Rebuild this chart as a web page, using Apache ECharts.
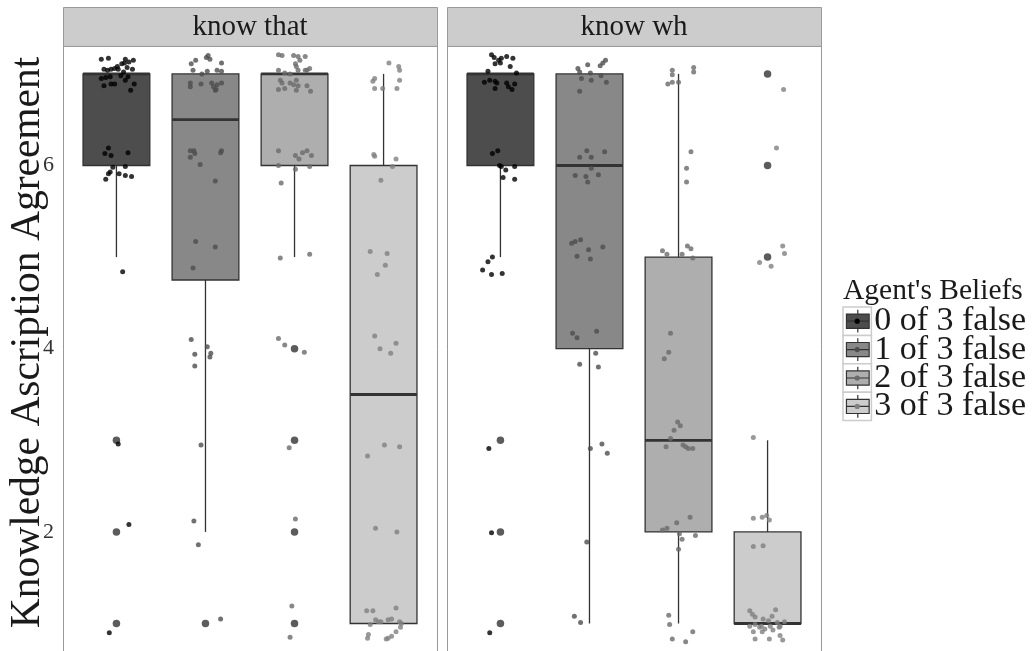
<!DOCTYPE html>
<html>
<head>
<meta charset="utf-8">
<script src="https://cdn.jsdelivr.net/npm/echarts@6/dist/echarts.min.js"></script>
<style>
  html, body { margin: 0; padding: 0; background: #ffffff; }
  #chart { width: 1035px; height: 651px; }
</style>
</head>
<body>
<div id="chart"></div>
<script>
// ---- data ----
const facets = ['know that', 'know wh'];
const beliefs = ['0 of 3 false', '1 of 3 false', '2 of 3 false', '3 of 3 false'];
const yTicks = [2, 4, 6];
const legendTitle = "Agent's Beliefs";
const yTitle = 'Knowledge Ascription Agreement';

// [lower whisker, Q1, median, Q3, upper whisker] per belief level
const boxKnowThat = [[5, 6, 7, 7, 7], [2, 4.75, 6.5, 7, 7], [5, 6, 7, 7, 7], [1, 1, 3.5, 6, 7]];
const boxKnowWh   = [[5, 6, 7, 7, 7], [1, 4, 6, 7, 7], [1, 2, 3, 5, 7], [1, 1, 1, 2, 3]];

const outliersKnowThat = [[3, 2, 1], [1], [4, 3, 2, 1], []];
const outliersKnowWh   = [[3, 2, 1], [], [], [7, 6, 5]];

// individual responses: [horizontal offset inside the group, rating]
const jitterThat0 = [
  [-0.17,7.16],[-0.09,7.17],[0.10,7.16],[0.19,7.15],[0.14,7.13],[-0.14,7.05],[-0.10,7.04],[-0.06,7.05],
  [-0.02,7.06],[0.01,7.08],[0.06,7.11],[0.09,7.12],[0.12,7.07],[0.18,7.05],[-0.17,6.95],[-0.12,6.96],
  [-0.07,6.97],[-0.06,6.89],[-0.02,6.89],[-0.14,6.87],[0.05,6.98],[0.10,6.93],[0.13,6.97],[0.20,6.89],
  [0.16,6.82],[0.02,7.05],[0.08,7.02],
  [-0.09,6.19],[-0.13,6.13],[-0.06,6.11],[0.13,6.14],[-0.04,5.98],[0.10,5.99],[-0.07,5.93],[-0.09,5.91],
  [0.03,5.91],[0.10,5.89],[0.17,5.88],[-0.12,5.85],
  [0.07,4.84],[0.02,2.96],[0.14,2.08],[-0.08,0.90]
];
const jitterThat1 = [
  [-0.16,7.11],[-0.11,7.15],[0.01,7.18],[0.05,7.16],[0.03,7.20],[0.18,7.12],[-0.14,7.04],[-0.04,7.00],
  [0.02,7.03],[0.13,7.04],[0.18,7.03],
  [-0.17,6.90],[-0.17,6.86],[-0.05,6.89],[0.07,6.90],[0.09,6.86],[0.12,6.83],[0.13,6.88],[0.18,6.90],[0.11,6.82],
  [-0.17,6.16],[-0.13,6.16],[-0.17,6.09],[-0.12,6.13],[-0.06,6.01],[0.18,6.16],[0.17,6.14],[0.11,5.83],
  [-0.11,5.17],[0.11,5.11],[-0.14,4.88],
  [-0.16,4.10],[0.02,4.02],[-0.12,3.94],[0.06,3.95],[0.05,3.91],[-0.12,3.81],
  [-0.05,2.95],[-0.13,2.12],[-0.08,1.86],[0.17,1.05]
];
const jitterThat2 = [
  [-0.18,7.21],[-0.14,7.20],[-0.01,7.20],[0.04,7.19],[0.12,7.19],[0.06,7.15],[0.01,7.11],[0.02,7.08],
  [0.17,7.06],[0.14,7.04],[-0.18,7.04],[-0.11,7.01],[-0.05,7.00],[0.04,7.04],[0.12,7.04],
  [-0.16,6.93],[-0.14,6.90],[-0.05,6.90],[0.02,6.93],[-0.01,6.88],[0.04,6.87],[0.14,6.87],[-0.18,6.83],
  [-0.11,6.84],[0.02,6.82],[0.18,6.81],
  [-0.18,6.16],[0.01,6.11],[0.05,6.07],[0.09,6.14],[0.14,6.16],[0.19,6.11],[-0.18,6.00],[0.01,5.96],
  [0.17,5.99],[-0.15,5.81],
  [-0.16,4.99],[0.17,5.03],
  [-0.18,4.11],[-0.11,4.04],[0.11,3.96],
  [-0.06,2.92],[0.01,2.14],[-0.03,1.19],[-0.05,0.85]
];
const jitterThat3 = [
  [-0.10,6.95],[-0.12,6.92],[0.06,7.12],[0.17,7.08],[0.18,7.04],[0.15,6.84],[0.18,6.93],[-0.01,6.84],[-0.10,6.84],
  [-0.11,6.12],[-0.10,6.10],[0.14,6.07],[0.10,5.99],[-0.03,5.84],
  [-0.15,5.06],[0.04,5.04],[0.02,4.91],[-0.07,4.81],
  [-0.10,4.14],[0.14,4.06],[-0.04,4.00],[0.08,3.95],
  [-0.18,2.83],[0.01,2.95],[0.18,2.93],
  [-0.09,2.04],[0.15,2.00],
  [-0.19,1.14],[-0.12,1.14],[0.14,1.17],[-0.09,1.04],[-0.03,1.02],[0.05,1.04],[0.09,1.05],[0.18,1.02],
  [-0.15,0.99],[0.19,0.96],[-0.17,0.88],[-0.18,0.84],[0.14,0.91],[0.09,0.86],[0.03,0.83],[0.05,0.84],
  [0.20,1.00],[-0.06,1.02]
];
const jitterWh0 = [
  [-0.10,7.21],[-0.07,7.18],[-0.02,7.15],[0.00,7.12],[0.01,7.17],[0.07,7.19],[0.14,7.17],[-0.06,7.11],
  [0.11,7.08],[-0.14,7.03],[0.18,7.01],[-0.18,6.91],[-0.12,6.93],[-0.06,6.92],[-0.04,6.90],[0.07,6.90],
  [0.09,6.86],[0.13,6.83],[0.16,6.89],[-0.06,6.84],
  [-0.09,6.13],[-0.03,6.16],[-0.01,6.00],[0.01,5.99],[0.06,5.95],[0.16,5.99],[0.03,5.87],[0.16,5.85],
  [-0.09,5.00],[-0.14,4.95],[-0.20,4.86],[-0.10,4.81],[0.02,4.82],
  [-0.13,2.91],[-0.10,1.99],[-0.12,0.90]
];
const jitterWh1 = [
  [-0.13,7.06],[-0.02,7.10],[-0.11,7.02],[0.01,7.01],[0.12,7.09],[0.15,7.12],[0.18,7.15],[-0.09,6.95],
  [0.02,6.93],[0.13,6.98],[0.19,6.91],[-0.11,6.81],
  [-0.11,6.09],[-0.03,6.16],[0.02,6.09],[0.17,6.15],[0.02,5.97],[-0.16,5.89],[-0.04,5.88],[0.10,5.90],[-0.02,5.82],
  [-0.20,5.15],[-0.16,5.17],[-0.10,5.19],[-0.01,5.08],[0.15,5.11],[-0.14,5.01],[0.01,4.98],
  [-0.19,4.17],[-0.14,4.12],[0.08,4.19],[0.07,3.95],[-0.11,3.83],[0.10,3.80],
  [0.01,2.91],[0.14,2.96],[0.20,2.86],
  [-0.03,1.89],[-0.17,1.08],[-0.10,1.01]
];
const jitterWh2 = [
  [-0.07,7.04],[-0.07,6.99],[-0.12,6.89],[-0.07,6.91],[0.00,6.91],[0.17,7.07],[0.17,7.02],
  [0.14,6.15],[0.09,5.97],[0.09,5.82],
  [-0.18,5.07],[-0.13,5.03],[0.04,5.03],[0.10,5.12],[0.14,5.09],[0.16,4.99],
  [-0.09,4.17],[-0.11,3.96],[-0.16,3.89],
  [-0.01,3.20],[0.02,3.16],[-0.05,3.11],[-0.09,3.02],[-0.14,2.93],[0.05,2.95],[0.11,2.91],[0.16,2.91],[0.08,2.93],
  [-0.18,2.02],[-0.13,2.04],[-0.02,2.10],[0.13,2.16],[0.01,1.98],[0.04,1.92],[0.19,1.96],[0.00,1.81],
  [-0.11,1.09],[-0.10,0.99],[-0.07,0.83],[0.08,0.80],[0.16,0.91]
];
const jitterWh3 = [
  [0.18,6.83],[0.10,6.19],
  [0.17,5.12],[0.19,5.04],[-0.09,4.94],[0.04,4.90],
  [-0.16,3.03],
  [-0.16,2.15],[-0.06,2.16],[-0.01,2.18],[0.02,2.13],[-0.16,1.84],[-0.05,1.85],
  [-0.20,1.14],[-0.17,1.10],[-0.14,1.07],[0.09,1.15],[0.05,1.08],[-0.05,1.05],[0.01,1.03],[0.11,1.01],
  [0.19,1.02],[-0.20,0.97],[-0.14,0.99],[-0.09,0.96],[-0.03,0.94],[0.06,0.93],[0.13,0.96],[0.14,0.97],
  [-0.16,0.91],[-0.06,0.91],[0.14,0.87],[-0.14,0.83],[0.02,0.83],[0.17,0.82],[-0.07,0.97],[0.03,0.97]
];

// ---- appearance ----
const boxFills = ['#4D4D4D', '#888888', '#AEAEAE', '#CCCCCC'];
const pointColors = ['#000000', '#4D4D4D', '#6A6A6A', '#808080'];
const LINE = '#333333';
const SERIF = '"Liberation Serif", "Times New Roman", serif';

const panels = [{ x: 63, w: 374 }, { x: 447, w: 374 }];
const PANEL_TOP = 46.4;
const Y_MIN = 0.7, Y_MAX = 7.3;
const PX_PER_UNIT_Y = 92;
const PANEL_H = (Y_MAX - Y_MIN) * PX_PER_UNIT_Y;
const STRIP_TOP = 7.5;

const boxes = [boxKnowThat, boxKnowWh];
const outliers = [outliersKnowThat, outliersKnowWh];
const jitters = [[jitterThat0, jitterThat1, jitterThat2, jitterThat3],
                 [jitterWh0, jitterWh1, jitterWh2, jitterWh3]];

function renderBox(params, api) {
  const i = api.value(0);
  const lo = api.coord([i, api.value(1)]);
  const q1 = api.coord([i, api.value(2)]);
  const med = api.coord([i, api.value(3)]);
  const q3 = api.coord([i, api.value(4)]);
  const hi = api.coord([i, api.value(5)]);
  const half = api.size([0.75, 0])[0] / 2;
  const x = q1[0];
  const thin = { stroke: LINE, lineWidth: 1.3 };
  return {
    type: 'group',
    children: [
      { type: 'line', shape: { x1: x, y1: hi[1], x2: x, y2: q3[1] }, style: thin },
      { type: 'line', shape: { x1: x, y1: q1[1], x2: x, y2: lo[1] }, style: thin },
      { type: 'rect', shape: { x: x - half, y: q3[1], width: 2 * half, height: q1[1] - q3[1] },
        style: { fill: api.visual('color'), stroke: LINE, lineWidth: 1.3 } },
      { type: 'line', shape: { x1: x - half, y1: med[1], x2: x + half, y2: med[1] },
        style: { stroke: LINE, lineWidth: 2.8 } }
    ]
  };
}

const grids = [], xAxes = [], yAxes = [], series = [], graphics = [];

panels.forEach((p, f) => {
  const unit = p.w / 4.2;
  grids.push({ left: p.x + 0.1 * unit, width: 4 * unit, top: PANEL_TOP, height: PANEL_H, containLabel: false });
  xAxes.push({ type: 'value', gridIndex: f, min: -0.5, max: 3.5, show: false });
  yAxes.push({
    type: 'value', gridIndex: f, min: Y_MIN, max: Y_MAX,
    axisLine: { show: false }, axisTick: { show: false }, splitLine: { show: false },
    axisLabel: {
      show: f === 0, customValues: yTicks, margin: 18,
      fontFamily: SERIF, fontSize: 22, color: '#333333'
    }
  });

  beliefs.forEach((b, i) => {
    series.push({
      type: 'custom', name: b, xAxisIndex: f, yAxisIndex: f, z: 2,
      itemStyle: { color: boxFills[i] },
      encode: { x: 0, y: [1, 2, 3, 4, 5] },
      renderItem: renderBox,
      data: [[i].concat(boxes[f][i])],
      silent: true
    });
    series.push({
      type: 'scatter', name: b, xAxisIndex: f, yAxisIndex: f, z: 3,
      symbolSize: 7.5, itemStyle: { color: LINE },
      data: outliers[f][i].map(v => [i, v]), silent: true
    });
    series.push({
      type: 'scatter', name: b, xAxisIndex: f, yAxisIndex: f, z: 4,
      symbolSize: 5, itemStyle: { color: pointColors[i] },
      data: jitters[f][i].map(([dx, v]) => [i + dx, v]), silent: true
    });
  });

  // panel frame, facet strip and its label
  graphics.push({
    type: 'rect', z: 1, silent: true,
    shape: { x: p.x + 0.5, y: PANEL_TOP, width: p.w, height: PANEL_H + 4 },
    style: { fill: 'none', stroke: '#999999', lineWidth: 1 }
  });
  graphics.push({
    type: 'rect', z: 1, silent: true,
    shape: { x: p.x + 0.5, y: STRIP_TOP, width: p.w, height: PANEL_TOP - STRIP_TOP },
    style: { fill: '#CCCCCC', stroke: '#999999', lineWidth: 1 }
  });
  graphics.push({
    type: 'text', z: 2, silent: true,
    x: p.x + p.w / 2, y: (STRIP_TOP + PANEL_TOP) / 2,
    style: { text: facets[f], fontFamily: SERIF, fontSize: 29, fill: '#1a1a1a',
             align: 'center', verticalAlign: 'middle' }
  });
});

// y-axis title
graphics.push({
  type: 'text', z: 2, silent: true, x: 28.5, y: 342.5, rotation: Math.PI / 2,
  style: { text: yTitle, fontFamily: SERIF, fontSize: 41.5, fill: '#1a1a1a',
           align: 'center', verticalAlign: 'middle' }
});

// legend key frames and the point glyph inside each key
const KEY = 28.4, KEY_X = 843, KEY_Y = 307;
const LEGEND_FONT = 34;
beliefs.forEach((b, i) => {
  graphics.push({
    type: 'rect', z: 0, silent: true,
    shape: { x: KEY_X, y: KEY_Y + i * KEY, width: KEY, height: KEY },
    style: { fill: '#ffffff', stroke: '#CCCCCC', lineWidth: 1.5 }
  });
  graphics.push({
    type: 'circle', z: 100, silent: true,
    shape: { cx: KEY_X + KEY / 2, cy: KEY_Y + i * KEY + KEY / 2, r: 2.6 },
    style: { fill: pointColors[i] }
  });
});

const KEY_ICON = 'path://M40,0L40,15M0,15L80,15L80,65L0,65ZM0,40L80,40M40,65L40,80';

const option = {
  backgroundColor: '#ffffff',
  animation: false,
  title: {
    text: legendTitle, left: KEY_X, top: 276, padding: 0,
    textStyle: { fontFamily: SERIF, fontSize: 29.5, fontWeight: 'normal', color: '#1a1a1a' }
  },
  legend: {
    orient: 'vertical', left: KEY_X + KEY * 0.1, top: KEY_Y - (LEGEND_FONT - KEY) / 2,
    padding: 0, itemGap: KEY - LEGEND_FONT,
    itemWidth: KEY * 0.8, itemHeight: KEY * 0.8, selectedMode: false,
    textStyle: { fontFamily: SERIF, fontSize: LEGEND_FONT, color: '#1a1a1a' },
    data: beliefs.map((b, i) => ({
      name: b, icon: KEY_ICON,
      itemStyle: { color: boxFills[i], borderColor: LINE, borderWidth: 1.2 }
    }))
  },
  grid: grids,
  xAxis: xAxes,
  yAxis: yAxes,
  series: series,
  graphic: { elements: graphics }
};

const chart = echarts.init(document.getElementById('chart'), null, { renderer: 'canvas' });
chart.setOption(option);
</script>
</body>
</html>
